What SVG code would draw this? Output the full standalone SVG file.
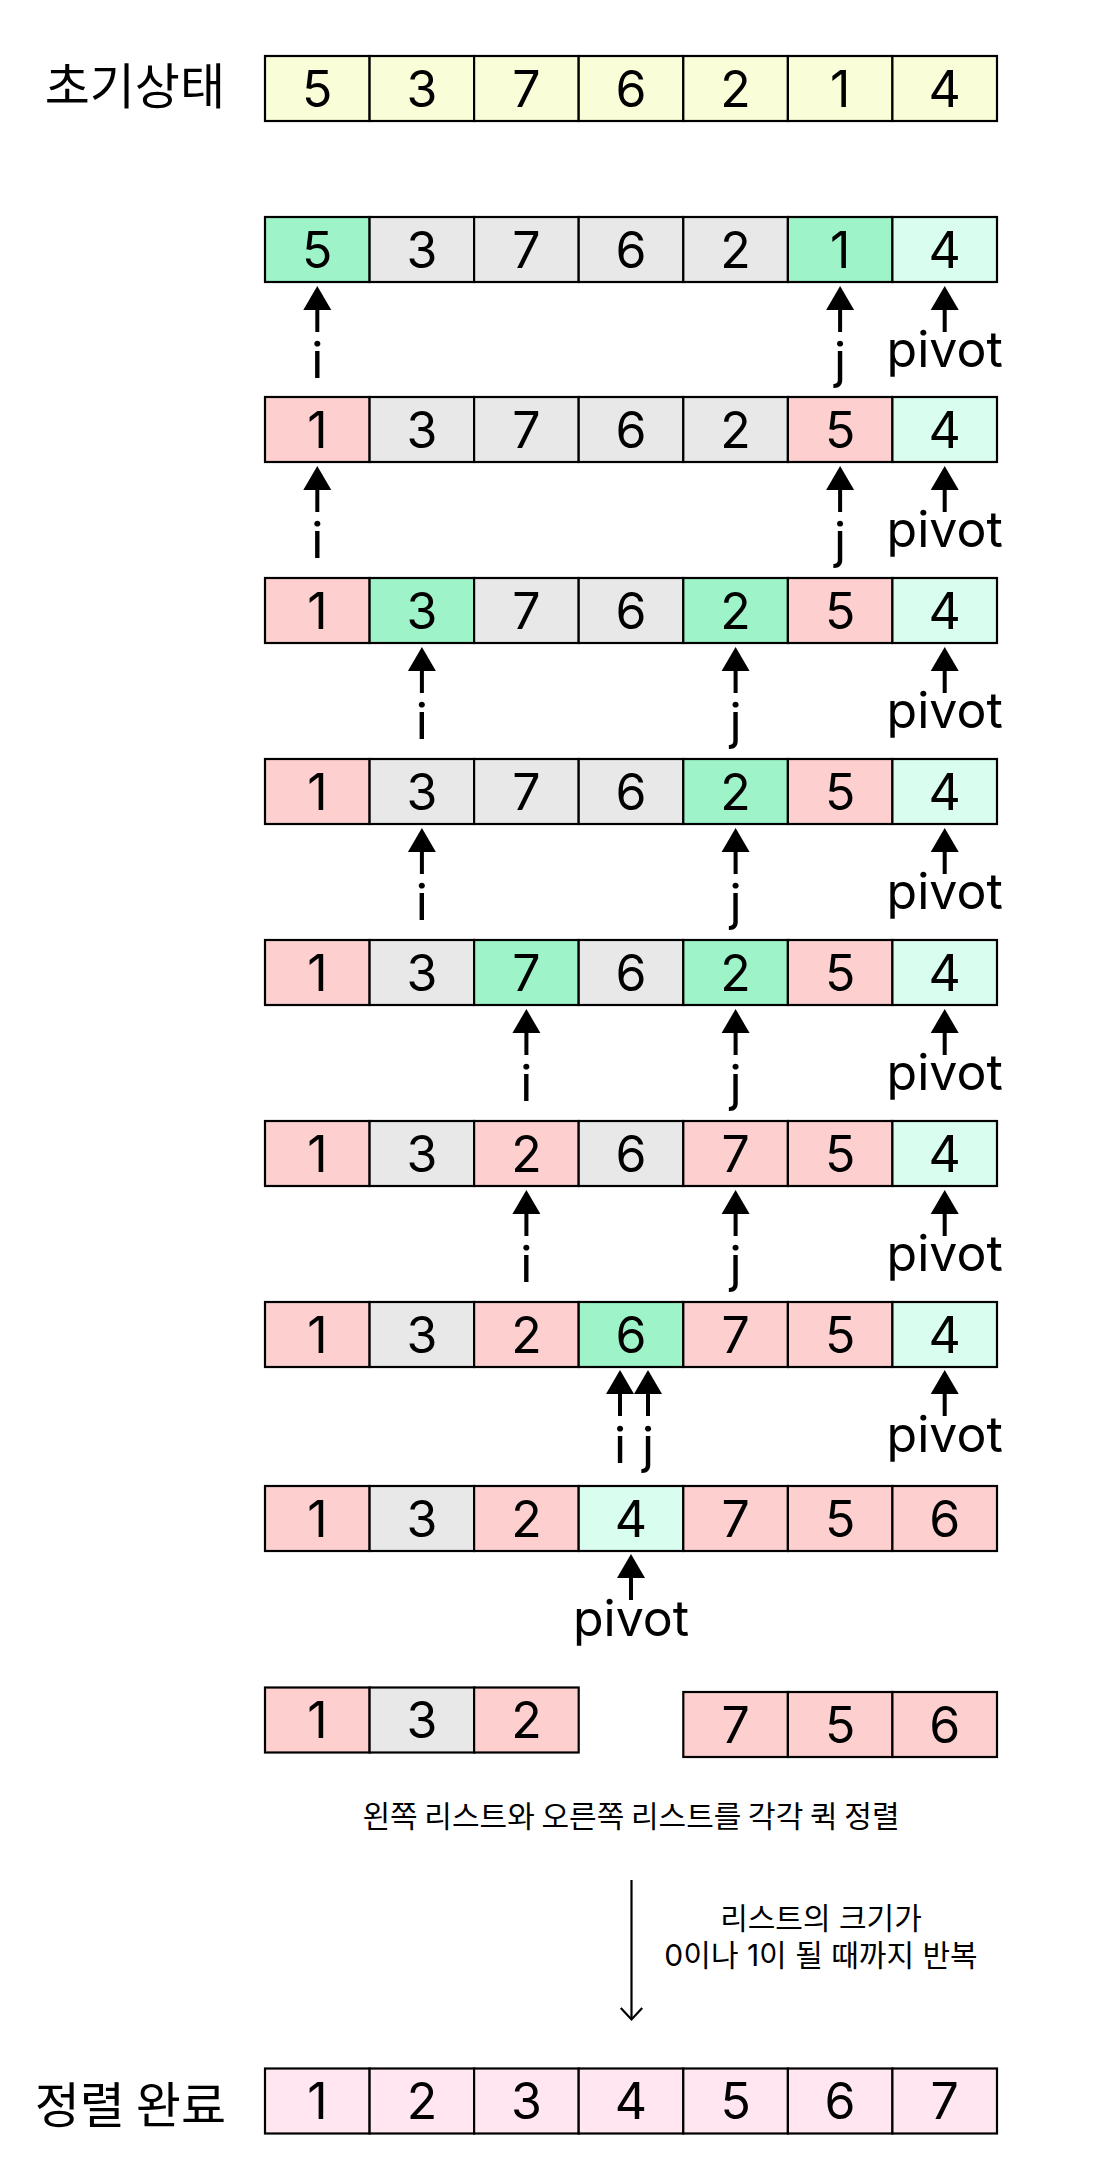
<svg xmlns="http://www.w3.org/2000/svg" xmlns:xlink="http://www.w3.org/1999/xlink" width="1108" height="2170" viewBox="0 0 1108 2170">
<style>
.c rect{stroke:#000;stroke-width:2.2}
.c text{font-family:Inter,"Noto Sans CJK KR",sans-serif;font-size:50px;text-anchor:middle;fill:#000}
.y{fill:#f9fdd8}.G{fill:#9ef4c8}.M{fill:#d9fdee}.g{fill:#e8e8e8}.P{fill:#fdcfcf}.F{fill:#ffe6f1}
.lb{font-family:Inter,"Noto Sans CJK KR",sans-serif;font-size:50px;text-anchor:middle;fill:#000}
.kt{font-family:"Noto Sans CJK KR",sans-serif;fill:#000}
.st{font-family:Inter,"Noto Sans CJK KR",sans-serif;font-size:30px;text-anchor:middle;fill:#000}
</style>
<defs>
<g id="ptr"><polygon points="0,0 -14,24 14,24" fill="#000"/><rect x="-2" y="23" width="4" height="23" fill="#000"/></g>
</defs>
<rect width="1108" height="2170" fill="#fff"/>
<text class="kt" x="225" y="104" font-size="49" text-anchor="end">초기상태</text>
<text class="kt" x="226" y="2123" font-size="49" text-anchor="end">정렬 완료</text>

<g id="row0" class="c">
<g id="r0c0"><rect class="y" x="265" y="56" width="104.6" height="65"/><text x="317.3" y="106.5">5</text></g>
<g id="r0c1"><rect class="y" x="369.6" y="56" width="104.6" height="65"/><text x="421.9" y="106.5">3</text></g>
<g id="r0c2"><rect class="y" x="474.1" y="56" width="104.6" height="65"/><text x="526.4" y="106.5">7</text></g>
<g id="r0c3"><rect class="y" x="578.7" y="56" width="104.6" height="65"/><text x="631" y="106.5">6</text></g>
<g id="r0c4"><rect class="y" x="683.3" y="56" width="104.6" height="65"/><text x="735.6" y="106.5">2</text></g>
<g id="r0c5"><rect class="y" x="787.9" y="56" width="104.6" height="65"/><text x="840.1" y="106.5">1</text></g>
<g id="r0c6"><rect class="y" x="892.4" y="56" width="104.6" height="65"/><text x="944.7" y="106.5">4</text></g>
</g>

<g id="row1" class="c">
<g id="r1c0"><rect class="G" x="265" y="217" width="104.6" height="65"/><text x="317.3" y="267.5">5</text></g>
<g id="r1c1"><rect class="g" x="369.6" y="217" width="104.6" height="65"/><text x="421.9" y="267.5">3</text></g>
<g id="r1c2"><rect class="g" x="474.1" y="217" width="104.6" height="65"/><text x="526.4" y="267.5">7</text></g>
<g id="r1c3"><rect class="g" x="578.7" y="217" width="104.6" height="65"/><text x="631" y="267.5">6</text></g>
<g id="r1c4"><rect class="g" x="683.3" y="217" width="104.6" height="65"/><text x="735.6" y="267.5">2</text></g>
<g id="r1c5"><rect class="G" x="787.9" y="217" width="104.6" height="65"/><text x="840.1" y="267.5">1</text></g>
<g id="r1c6"><rect class="M" x="892.4" y="217" width="104.6" height="65"/><text x="944.7" y="267.5">4</text></g>
</g>

<g id="row2" class="c">
<g id="r2c0"><rect class="P" x="265" y="397" width="104.6" height="65"/><text x="317.3" y="447.5">1</text></g>
<g id="r2c1"><rect class="g" x="369.6" y="397" width="104.6" height="65"/><text x="421.9" y="447.5">3</text></g>
<g id="r2c2"><rect class="g" x="474.1" y="397" width="104.6" height="65"/><text x="526.4" y="447.5">7</text></g>
<g id="r2c3"><rect class="g" x="578.7" y="397" width="104.6" height="65"/><text x="631" y="447.5">6</text></g>
<g id="r2c4"><rect class="g" x="683.3" y="397" width="104.6" height="65"/><text x="735.6" y="447.5">2</text></g>
<g id="r2c5"><rect class="P" x="787.9" y="397" width="104.6" height="65"/><text x="840.1" y="447.5">5</text></g>
<g id="r2c6"><rect class="M" x="892.4" y="397" width="104.6" height="65"/><text x="944.7" y="447.5">4</text></g>
</g>

<g id="row3" class="c">
<g id="r3c0"><rect class="P" x="265" y="578" width="104.6" height="65"/><text x="317.3" y="628.5">1</text></g>
<g id="r3c1"><rect class="G" x="369.6" y="578" width="104.6" height="65"/><text x="421.9" y="628.5">3</text></g>
<g id="r3c2"><rect class="g" x="474.1" y="578" width="104.6" height="65"/><text x="526.4" y="628.5">7</text></g>
<g id="r3c3"><rect class="g" x="578.7" y="578" width="104.6" height="65"/><text x="631" y="628.5">6</text></g>
<g id="r3c4"><rect class="G" x="683.3" y="578" width="104.6" height="65"/><text x="735.6" y="628.5">2</text></g>
<g id="r3c5"><rect class="P" x="787.9" y="578" width="104.6" height="65"/><text x="840.1" y="628.5">5</text></g>
<g id="r3c6"><rect class="M" x="892.4" y="578" width="104.6" height="65"/><text x="944.7" y="628.5">4</text></g>
</g>

<g id="row4" class="c">
<g id="r4c0"><rect class="P" x="265" y="759" width="104.6" height="65"/><text x="317.3" y="809.5">1</text></g>
<g id="r4c1"><rect class="g" x="369.6" y="759" width="104.6" height="65"/><text x="421.9" y="809.5">3</text></g>
<g id="r4c2"><rect class="g" x="474.1" y="759" width="104.6" height="65"/><text x="526.4" y="809.5">7</text></g>
<g id="r4c3"><rect class="g" x="578.7" y="759" width="104.6" height="65"/><text x="631" y="809.5">6</text></g>
<g id="r4c4"><rect class="G" x="683.3" y="759" width="104.6" height="65"/><text x="735.6" y="809.5">2</text></g>
<g id="r4c5"><rect class="P" x="787.9" y="759" width="104.6" height="65"/><text x="840.1" y="809.5">5</text></g>
<g id="r4c6"><rect class="M" x="892.4" y="759" width="104.6" height="65"/><text x="944.7" y="809.5">4</text></g>
</g>

<g id="row5" class="c">
<g id="r5c0"><rect class="P" x="265" y="940" width="104.6" height="65"/><text x="317.3" y="990.5">1</text></g>
<g id="r5c1"><rect class="g" x="369.6" y="940" width="104.6" height="65"/><text x="421.9" y="990.5">3</text></g>
<g id="r5c2"><rect class="G" x="474.1" y="940" width="104.6" height="65"/><text x="526.4" y="990.5">7</text></g>
<g id="r5c3"><rect class="g" x="578.7" y="940" width="104.6" height="65"/><text x="631" y="990.5">6</text></g>
<g id="r5c4"><rect class="G" x="683.3" y="940" width="104.6" height="65"/><text x="735.6" y="990.5">2</text></g>
<g id="r5c5"><rect class="P" x="787.9" y="940" width="104.6" height="65"/><text x="840.1" y="990.5">5</text></g>
<g id="r5c6"><rect class="M" x="892.4" y="940" width="104.6" height="65"/><text x="944.7" y="990.5">4</text></g>
</g>

<g id="row6" class="c">
<g id="r6c0"><rect class="P" x="265" y="1121" width="104.6" height="65"/><text x="317.3" y="1171.5">1</text></g>
<g id="r6c1"><rect class="g" x="369.6" y="1121" width="104.6" height="65"/><text x="421.9" y="1171.5">3</text></g>
<g id="r6c2"><rect class="P" x="474.1" y="1121" width="104.6" height="65"/><text x="526.4" y="1171.5">2</text></g>
<g id="r6c3"><rect class="g" x="578.7" y="1121" width="104.6" height="65"/><text x="631" y="1171.5">6</text></g>
<g id="r6c4"><rect class="P" x="683.3" y="1121" width="104.6" height="65"/><text x="735.6" y="1171.5">7</text></g>
<g id="r6c5"><rect class="P" x="787.9" y="1121" width="104.6" height="65"/><text x="840.1" y="1171.5">5</text></g>
<g id="r6c6"><rect class="M" x="892.4" y="1121" width="104.6" height="65"/><text x="944.7" y="1171.5">4</text></g>
</g>

<g id="row7" class="c">
<g id="r7c0"><rect class="P" x="265" y="1302" width="104.6" height="65"/><text x="317.3" y="1352.5">1</text></g>
<g id="r7c1"><rect class="g" x="369.6" y="1302" width="104.6" height="65"/><text x="421.9" y="1352.5">3</text></g>
<g id="r7c2"><rect class="P" x="474.1" y="1302" width="104.6" height="65"/><text x="526.4" y="1352.5">2</text></g>
<g id="r7c3"><rect class="G" x="578.7" y="1302" width="104.6" height="65"/><text x="631" y="1352.5">6</text></g>
<g id="r7c4"><rect class="P" x="683.3" y="1302" width="104.6" height="65"/><text x="735.6" y="1352.5">7</text></g>
<g id="r7c5"><rect class="P" x="787.9" y="1302" width="104.6" height="65"/><text x="840.1" y="1352.5">5</text></g>
<g id="r7c6"><rect class="M" x="892.4" y="1302" width="104.6" height="65"/><text x="944.7" y="1352.5">4</text></g>
</g>

<g id="row8" class="c">
<g id="r8c0"><rect class="P" x="265" y="1486" width="104.6" height="65"/><text x="317.3" y="1536.5">1</text></g>
<g id="r8c1"><rect class="g" x="369.6" y="1486" width="104.6" height="65"/><text x="421.9" y="1536.5">3</text></g>
<g id="r8c2"><rect class="P" x="474.1" y="1486" width="104.6" height="65"/><text x="526.4" y="1536.5">2</text></g>
<g id="r8c3"><rect class="M" x="578.7" y="1486" width="104.6" height="65"/><text x="631" y="1536.5">4</text></g>
<g id="r8c4"><rect class="P" x="683.3" y="1486" width="104.6" height="65"/><text x="735.6" y="1536.5">7</text></g>
<g id="r8c5"><rect class="P" x="787.9" y="1486" width="104.6" height="65"/><text x="840.1" y="1536.5">5</text></g>
<g id="r8c6"><rect class="P" x="892.4" y="1486" width="104.6" height="65"/><text x="944.7" y="1536.5">6</text></g>
</g>

<g id="leftList" class="c">
<g id="lc0"><rect class="P" x="265" y="1687.5" width="104.6" height="65"/><text x="317.3" y="1738">1</text></g>
<g id="lc1"><rect class="g" x="369.6" y="1687.5" width="104.6" height="65"/><text x="421.9" y="1738">3</text></g>
<g id="lc2"><rect class="P" x="474.1" y="1687.5" width="104.6" height="65"/><text x="526.4" y="1738">2</text></g>
</g>
<g id="rightList" class="c">
<g id="rc0"><rect class="P" x="683.3" y="1692" width="104.6" height="65"/><text x="735.6" y="1742.5">7</text></g>
<g id="rc1"><rect class="P" x="787.9" y="1692" width="104.6" height="65"/><text x="840.1" y="1742.5">5</text></g>
<g id="rc2"><rect class="P" x="892.4" y="1692" width="104.6" height="65"/><text x="944.7" y="1742.5">6</text></g>
</g>

<g id="rowFinal" class="c">
<g id="fc0"><rect class="F" x="265" y="2068.5" width="104.6" height="65"/><text x="317.3" y="2119">1</text></g>
<g id="fc1"><rect class="F" x="369.6" y="2068.5" width="104.6" height="65"/><text x="421.9" y="2119">2</text></g>
<g id="fc2"><rect class="F" x="474.1" y="2068.5" width="104.6" height="65"/><text x="526.4" y="2119">3</text></g>
<g id="fc3"><rect class="F" x="578.7" y="2068.5" width="104.6" height="65"/><text x="631" y="2119">4</text></g>
<g id="fc4"><rect class="F" x="683.3" y="2068.5" width="104.6" height="65"/><text x="735.6" y="2119">5</text></g>
<g id="fc5"><rect class="F" x="787.9" y="2068.5" width="104.6" height="65"/><text x="840.1" y="2119">6</text></g>
<g id="fc6"><rect class="F" x="892.4" y="2068.5" width="104.6" height="65"/><text x="944.7" y="2119">7</text></g>
</g>

<g id="connectors">
<use xlink:href="#ptr" x="317.3" y="286"/><use xlink:href="#ptr" x="840.1" y="286"/><use xlink:href="#ptr" x="944.7" y="286"/>
<use xlink:href="#ptr" x="317.3" y="466"/><use xlink:href="#ptr" x="840.1" y="466"/><use xlink:href="#ptr" x="944.7" y="466"/>
<use xlink:href="#ptr" x="421.9" y="647"/><use xlink:href="#ptr" x="735.6" y="647"/><use xlink:href="#ptr" x="944.7" y="647"/>
<use xlink:href="#ptr" x="421.9" y="828"/><use xlink:href="#ptr" x="735.6" y="828"/><use xlink:href="#ptr" x="944.7" y="828"/>
<use xlink:href="#ptr" x="526.4" y="1009"/><use xlink:href="#ptr" x="735.6" y="1009"/><use xlink:href="#ptr" x="944.7" y="1009"/>
<use xlink:href="#ptr" x="526.4" y="1190"/><use xlink:href="#ptr" x="735.6" y="1190"/><use xlink:href="#ptr" x="944.7" y="1190"/>
<use xlink:href="#ptr" x="620" y="1370"/><use xlink:href="#ptr" x="648" y="1370"/><use xlink:href="#ptr" x="944.7" y="1370"/>
<use xlink:href="#ptr" x="631" y="1554"/>
<line x1="631.5" y1="1880" x2="631.5" y2="2019" stroke="#000" stroke-width="2.2"/>
<polyline points="620.8,2008 631.5,2019.5 642.2,2008" fill="none" stroke="#000" stroke-width="2.2"/>
</g>

<g id="labels">
<text class="lb" x="317.3" y="378">i</text><text class="lb" x="840.1" y="378">j</text><text class="lb" x="944.7" y="367">pivot</text>
<text class="lb" x="317.3" y="558">i</text><text class="lb" x="840.1" y="558">j</text><text class="lb" x="944.7" y="547">pivot</text>
<text class="lb" x="421.9" y="739">i</text><text class="lb" x="735.6" y="739">j</text><text class="lb" x="944.7" y="728">pivot</text>
<text class="lb" x="421.9" y="920">i</text><text class="lb" x="735.6" y="920">j</text><text class="lb" x="944.7" y="909">pivot</text>
<text class="lb" x="526.4" y="1101">i</text><text class="lb" x="735.6" y="1101">j</text><text class="lb" x="944.7" y="1090">pivot</text>
<text class="lb" x="526.4" y="1282">i</text><text class="lb" x="735.6" y="1282">j</text><text class="lb" x="944.7" y="1271">pivot</text>
<text class="lb" x="620" y="1463">i</text><text class="lb" x="648" y="1463">j</text><text class="lb" x="944.7" y="1452">pivot</text>
<text class="lb" x="631" y="1636">pivot</text>
<text class="kt" x="631" y="1827" font-size="30" text-anchor="middle">왼쪽 리스트와 오른쪽 리스트를 각각 퀵 정렬</text>
<text class="st" x="821" y="1929">리스트의 크기가</text>
<text class="st" x="821" y="1966">0이나 1이 될 때까지 반복</text>
</g>
</svg>
